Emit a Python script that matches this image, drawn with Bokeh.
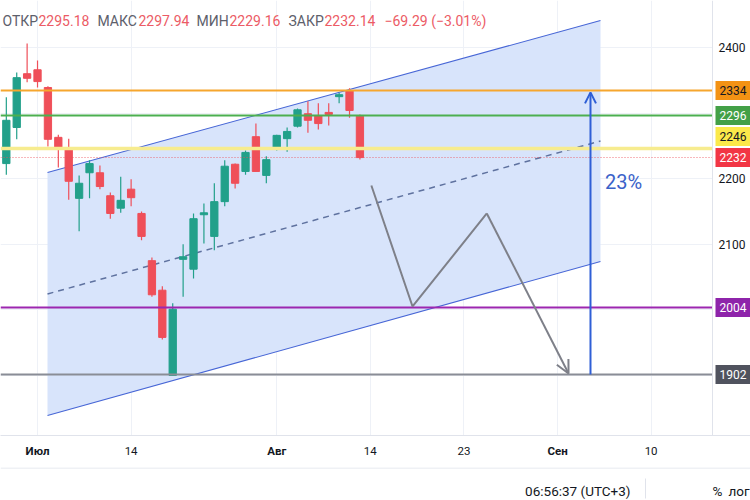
from bokeh.plotting import figure
from bokeh.models import Range1d, FixedTicker, Label, Arrow, OpenHead, ColumnDataSource, LinearAxis
from bokeh.layouts import column
from bokeh.embed import file_html
from bokeh.resources import INLINE
from bokeh.core.properties import value

FONT = "Roboto"

# ---------------- data ----------------
bar_index = list(range(-3, 32))
opens = [2223, 2278, 2360, 2366, 2339, 2263, 2245, 2170, 2209, 2209, 2174, 2155, 2184, 2147, 2075,
         2030, 1900, 2077, 2062, 2145, 2112, 2165, 2222, 2211, 2264, 2205, 2245, 2261, 2280, 2299,
         2296, 2301, 2325, 2334, 2295.18]
highs = [2324, 2362, 2406, 2380, 2341, 2267, 2261, 2205, 2228, 2220, 2179, 2203, 2199, 2150, 2080,
         2036, 2010, 2100, 2147, 2162, 2193, 2228, 2223, 2243, 2284, 2234, 2267, 2278, 2307, 2318,
         2315, 2315, 2331, 2338, 2297.94]
lows = [2206, 2260, 2347, 2339, 2249, 2217, 2168, 2120, 2170, 2184, 2139, 2148, 2158, 2106, 2020,
        1955, 1900, 2020, 2048, 2101, 2091, 2158, 2185, 2206, 2211, 2193, 2243, 2241, 2278, 2270,
        2275, 2281, 2315, 2293, 2229.16]
closes = [2289, 2354, 2353, 2348, 2260, 2246, 2196, 2193, 2223, 2188, 2147, 2167, 2171, 2112, 2023,
          1958, 2001, 2081, 2139, 2148, 2165, 2219, 2193, 2240, 2211, 2229, 2266, 2272, 2305, 2289,
          2284, 2298, 2328, 2304, 2232.14]

tick_positions = [0, 9, 23, 32, 41, 50, 59]
tick_labels = ["Июл", "14", "Авг", "14", "23", "Сен", "10"]
price_ticks = [1900, 2000, 2100, 2200, 2300, 2400]
shown_price_ticks = [2100, 2200, 2400]

level_prices = [2334.4, 2296.3, 2246.0, 2003.7, 1901.5]
level_line_colors = ["#f6a62e", "#4caf50", "#f7ec8f", "#9c27b0", "#8a8d96"]
level_box_colors = ["#f39214", "#43a047", "#fbe94a", "#8e24aa", "#50535e"]
level_text_colors = ["#131722", "#ffffff", "#131722", "#ffffff", "#ffffff"]
level_widths = [2, 2, 3.5, 2, 2]
level_label_shift_px = [0, 0, 12, 0, 0]

channel_x = [0.96, 54.13]
channel_upper = [2209.4, 2441.0]
channel_lower = [1839.0, 2073.8]

proj_x = [32.1, 36.06, 43.2, 51.06]
proj_y = [2189.6, 2005.2, 2147.0, 1903.1]

target_x = 53.17
target_from = 1901.5
target_to = 2331.6
target_text = "23%"
target_text_y = 2194.5

header_items = [("ОТКР", "label"), ("2295.18", "val"), ("МАКС", "label"), ("2297.94", "val"),
                ("МИН", "label"), ("2229.16", "val"), ("ЗАКР", "label"), ("2232.14", "val"),
                ("−69.29 (−3.01%)", "val")]
header_px = [2, 38, 97, 138, 196, 229, 288, 324, 384]

UP = "#22a08a"
DOWN = "#ef4f59"

# ---------------- geometry ----------------
W = 750
H_MAIN, FRAME_H = 467, 435
BAR_PX = 10.4
SCALE_PX = 712          # left border of the price scale
x0 = -3.56
x1 = x0 + W / BAR_PX
y1 = 2471.6
ppu = 0.656
y0 = y1 - FRAME_H / ppu


def fx(px):
    return x0 + px / BAR_PX


def fy(py):
    return y1 - py / ppu


p = figure(width=W, height=H_MAIN, x_range=Range1d(x0, x1), y_range=Range1d(y0, y1),
           y_axis_location=None, toolbar_location=None, output_backend="svg",
           min_border_left=0, min_border_top=0, min_border_right=0,
           min_border_bottom=H_MAIN - FRAME_H)
p.outline_line_color = None
p.background_fill_color = "white"
p.border_fill_color = "white"

# grids
p.xgrid.ticker = FixedTicker(ticks=tick_positions)
p.ygrid.ticker = FixedTicker(ticks=price_ticks)
p.xgrid.grid_line_color = "#eef1f7"
p.ygrid.grid_line_color = "#eef1f7"

# time axis: days (regular) and months (bold)
day_ticks = [t for t, l in zip(tick_positions, tick_labels) if l.isdigit()]
month_ticks = [t for t, l in zip(tick_positions, tick_labels) if not l.isdigit()]
label_map = {t: l for t, l in zip(tick_positions, tick_labels)}

p.xaxis.ticker = FixedTicker(ticks=day_ticks)
p.xaxis.major_label_overrides = {t: label_map[t] for t in day_ticks}
p.xaxis.axis_line_color = "#e0e3eb"
p.xaxis.major_tick_line_color = None
p.xaxis.minor_tick_line_color = None
p.xaxis.major_tick_out = 0
p.xaxis.major_tick_in = 0
p.xaxis.major_label_standoff = 11
p.xaxis.major_label_text_font = FONT
p.xaxis.major_label_text_font_size = "11.5px"
p.xaxis.major_label_text_color = "#131722"

month_axis = LinearAxis(ticker=FixedTicker(ticks=month_ticks),
                        major_label_overrides={t: label_map[t] for t in month_ticks},
                        axis_line_color=None, major_tick_line_color=None, minor_tick_line_color=None,
                        major_tick_out=0, major_tick_in=0, major_label_standoff=-14,
                        major_label_text_font=FONT, major_label_text_font_size="11.5px",
                        major_label_text_font_style="bold", major_label_text_color="#131722")
p.add_layout(month_axis, "below")

# channel
p.varea(x=channel_x, y1=channel_lower, y2=channel_upper, fill_color="#d8e4fb")
p.line(channel_x, channel_upper, line_color="#4766d6", line_width=1.1)
p.line(channel_x, channel_lower, line_color="#4766d6", line_width=1.1)
channel_mid = [(a + b) / 2 for a, b in zip(channel_upper, channel_lower)]
p.line(channel_x, channel_mid, line_color="#5f729f", line_width=1.5, line_dash="6 5")

# candles
src = ColumnDataSource(dict(
    x=bar_index, h=highs, l=lows,
    top=[max(o, c) for o, c in zip(opens, closes)],
    bottom=[min(o, c) for o, c in zip(opens, closes)],
    color=[UP if c >= o else DOWN for o, c in zip(opens, closes)],
))
p.segment(x0="x", y0="h", x1="x", y1="l", line_color="color", line_width=1.2, source=src)
p.vbar(x="x", width=0.7, top="top", bottom="bottom", fill_color="color", line_color="color", source=src)

# horizontal levels
p.hspan(y=level_prices, line_color=level_line_colors, line_width=level_widths)
p.hspan(y=[closes[-1]], line_color=DOWN, line_width=1, line_dash="1 2", line_alpha=0.8)

# projection zigzag
p.line(proj_x[:3], proj_y[:3], line_color="#7e8089", line_width=2)
p.add_layout(Arrow(x_start=proj_x[2], y_start=proj_y[2], x_end=proj_x[3], y_end=proj_y[3],
                   line_color="#7e8089", line_width=2,
                   end=OpenHead(size=13, line_color="#7e8089", line_width=2)))

# target arrow
p.add_layout(Arrow(x_start=target_x, y_start=target_from, x_end=target_x, y_end=target_to,
                   line_color="#2f5fd6", line_width=2,
                   end=OpenHead(size=11, line_color="#2f5fd6", line_width=2)))
p.text(x=[target_x + 1.4], y=[target_text_y], text=[target_text], text_font=value(FONT),
       text_font_size="20px", text_color="#3a62c9", text_baseline="middle", text_align="left")

# price scale (right)
scale_left = fx(SCALE_PX)
p.quad(left=[scale_left], right=[x1], bottom=[y0], top=[y1], fill_color="white", line_color=None)
p.segment(x0=[scale_left], y0=[y0], x1=[scale_left], y1=[y1], line_color="#e0e3eb", line_width=1)
p.text(x=[fx(SCALE_PX + 6)] * len(shown_price_ticks), y=shown_price_ticks,
       text=[str(t) for t in shown_price_ticks], text_font=value(FONT), text_font_size="12px",
       text_color="#131722", text_baseline="middle", text_align="left")

box_prices = level_prices + [closes[-1]]
box_colors = level_box_colors + ["#f23645"]
box_text_colors = level_text_colors + ["#ffffff"]
box_shift = level_label_shift_px + [0]
box_centers = [v + s / ppu for v, s in zip(box_prices, box_shift)]
half_h = 9.5 / ppu
p.quad(left=[fx(SCALE_PX + 3)] * len(box_centers), right=[x1] * len(box_centers),
       bottom=[c - half_h for c in box_centers], top=[c + half_h for c in box_centers],
       fill_color=box_colors, line_color=None)
p.text(x=[fx(SCALE_PX + 7)] * len(box_centers), y=box_centers,
       text=[f"{v:.0f}" for v in box_prices], text_font=value(FONT), text_font_size="12px",
       text_color=box_text_colors, text_baseline="middle", text_align="left")

# header
for (txt, kind), px in zip(header_items, header_px):
    p.add_layout(Label(x=fx(px), y=fy(20), text=txt, text_font=FONT, text_font_size="14px",
                       text_color="#5d606b" if kind == "label" else "#ec5b65",
                       text_baseline="middle", text_align="left"))

# ---------------- status bar ----------------
H_STATUS = 33
s = figure(width=W, height=H_STATUS, x_range=Range1d(0, W), y_range=Range1d(0, H_STATUS),
           toolbar_location=None, output_backend="svg", x_axis_location=None, y_axis_location=None,
           min_border_left=0, min_border_right=0, min_border_top=0, min_border_bottom=0)
s.grid.visible = False
s.outline_line_color = None
s.segment(x0=[0], y0=[H_STATUS - 0.5], x1=[W], y1=[H_STATUS - 0.5], line_color="#e0e3eb", line_width=1)
s.segment(x0=[645], y0=[2], x1=[645], y1=[22], line_color="#e0e3eb", line_width=1)
s.text(x=[630], y=[10], text=["06:56:37 (UTC+3)"], text_align="right", text_baseline="middle",
       text_font=value(FONT), text_font_size="13.5px", text_color="#131722")
s.text(x=[717], y=[10], text=["%"], text_align="center", text_baseline="middle",
       text_font=value(FONT), text_font_size="13.5px", text_color="#131722")
s.text(x=[728], y=[10], text=["лог"], text_align="left", text_baseline="middle",
       text_font=value(FONT), text_font_size="13.5px", text_color="#131722")

layout = column(p, s, spacing=0)
open("out.html", "w").write(file_html(layout, INLINE))
